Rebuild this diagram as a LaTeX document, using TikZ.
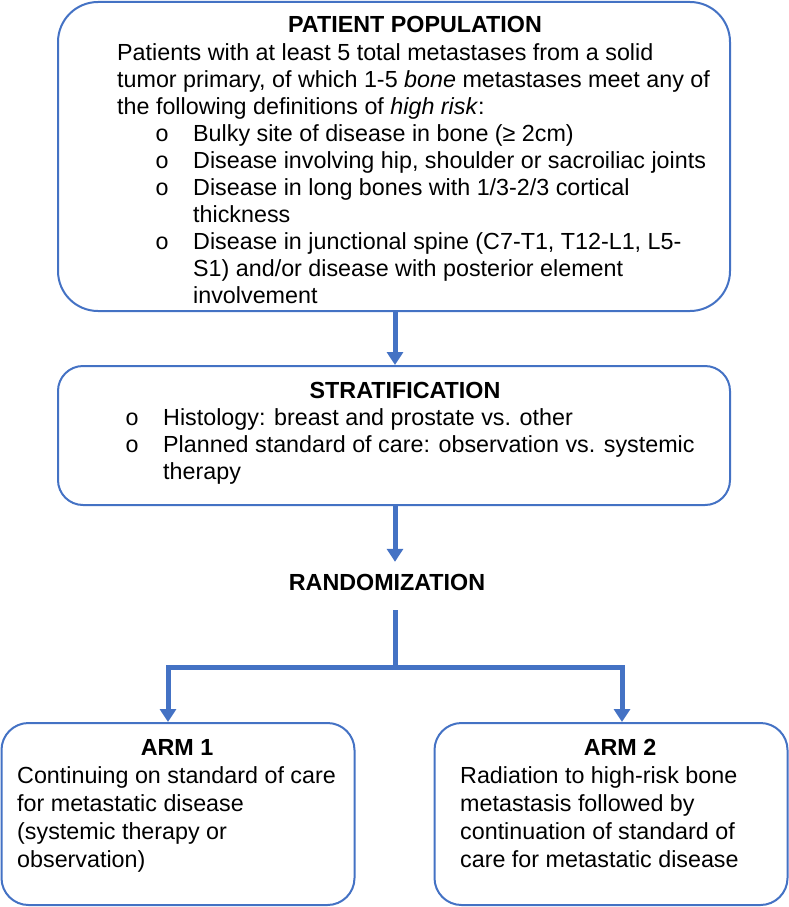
\documentclass[tikz,border=0pt]{standalone}
\usepackage{fontspec}
\setmainfont{Liberation Sans}
\newfontfamily\bulfont{Liberation Mono}
\usetikzlibrary{arrows.meta}
\definecolor{ln}{HTML}{4472C4}
\begin{document}
\begin{tikzpicture}[x=1pt,y=-1pt,
  box/.style={draw=ln, line width=2pt, rounded corners=#1, inner sep=0pt},
  box/.default=25pt,
  txt/.style={font=\fontsize{23.3}{27}\selectfont, inner sep=0pt, anchor=base west},
  ttl/.style={font=\fontsize{23.3}{27}\selectfont\bfseries, inner sep=0pt, anchor=base},
  bul/.style={font=\fontsize{23.3}{27}\bulfont, inner sep=0pt, anchor=base},
  conn/.style={draw=ln, line width=5pt},
  arr/.style={conn, -{Triangle[width=16pt,length=13pt]}}]
\useasboundingbox (0,0) rectangle (789,907);
% boxes
\node[box=40pt, minimum width=672pt, minimum height=309pt] (pop) at (394,156.5) {};
\node[box=25pt, minimum width=672pt, minimum height=139pt] (strat) at (394,435.5) {};
\node[box=27pt, minimum width=353pt, minimum height=182pt] (arm1) at (178,814) {};
\node[box=27pt, minimum width=353pt, minimum height=182pt] (arm2) at (611,814) {};
% patient population
\node[ttl] (popt) at (415,33) {PATIENT POPULATION};
\node[txt] (p1) at (117,60) {Patients with at least 5 total metastases from a solid};
\node[txt] (p2) at (117,87) {tumor primary, of which 1-5 \textit{bone} metastases meet any of};
\node[txt] (p3) at (117,114) {the following definitions of \textit{high risk}:};
\node[bul] (b1) at (162,141) {o};
\node[txt] (p4) at (193,141) {Bulky site of disease in bone (≥ 2cm)};
\node[bul] (b2) at (162,168) {o};
\node[txt] (p5) at (193,168) {Disease involving hip, shoulder or sacroiliac joints};
\node[bul] (b3) at (162,195) {o};
\node[txt] (p6) at (193,195) {Disease in long bones with 1/3-2/3 cortical};
\node[txt] (p7) at (193,222) {thickness};
\node[bul] (b4) at (162,249) {o};
\node[txt] (p8) at (193,249) {Disease in junctional spine (C7-T1, T12-L1, L5-};
\node[txt] (p9) at (193,276) {S1) and/or disease with posterior element};
\node[txt] (p10) at (193,303) {involvement};
% stratification
\node[ttl] (stt) at (405,398) {STRATIFICATION};
\node[bul] (s1b) at (132,425) {o};
\node[txt] (s1) at (163,425) {Histology: breast and prostate vs. other};
\node[bul] (s2b) at (132,452) {o};
\node[txt] (s2) at (163,452) {Planned standard of care: observation vs. systemic};
\node[txt] (s3) at (163,479) {therapy};
% randomization
\node[ttl, text height=28pt, text depth=20pt] (rand) at (387,590) {RANDOMIZATION};
% arm 1
\node[ttl] (a1t) at (177,755) {ARM 1};
\node[txt] (a11) at (17,783) {Continuing on standard of care};
\node[txt] (a12) at (17,811) {for metastatic disease};
\node[txt] (a13) at (17,839) {(systemic therapy or};
\node[txt] (a14) at (17,867) {observation)};
% arm 2
\node[ttl] (a2t) at (620,755) {ARM 2};
\node[txt] (a21) at (460,783) {Radiation to high-risk bone};
\node[txt] (a22) at (460,811) {metastasis followed by};
\node[txt] (a23) at (460,839) {continuation of standard of};
\node[txt] (a24) at (460,867) {care for metastatic disease};
% connectors
\coordinate (sx) at (395,0);
\coordinate (ax1) at (168,0);
\coordinate (ax2) at (622,0);
\coordinate (split) at (395,667);
\draw[arr] (pop.south -| sx) -- (strat.north -| sx);
\draw[arr] (strat.south -| sx) -- (rand.north -| sx);
\draw[conn] (rand.south -| sx) -- ([yshift=-2.5pt]split);
\draw[arr, line join=miter] (split) -| (arm1.north -| ax1);
\draw[arr, line join=miter] (split) -| (arm2.north -| ax2);
\end{tikzpicture}
\end{document}
